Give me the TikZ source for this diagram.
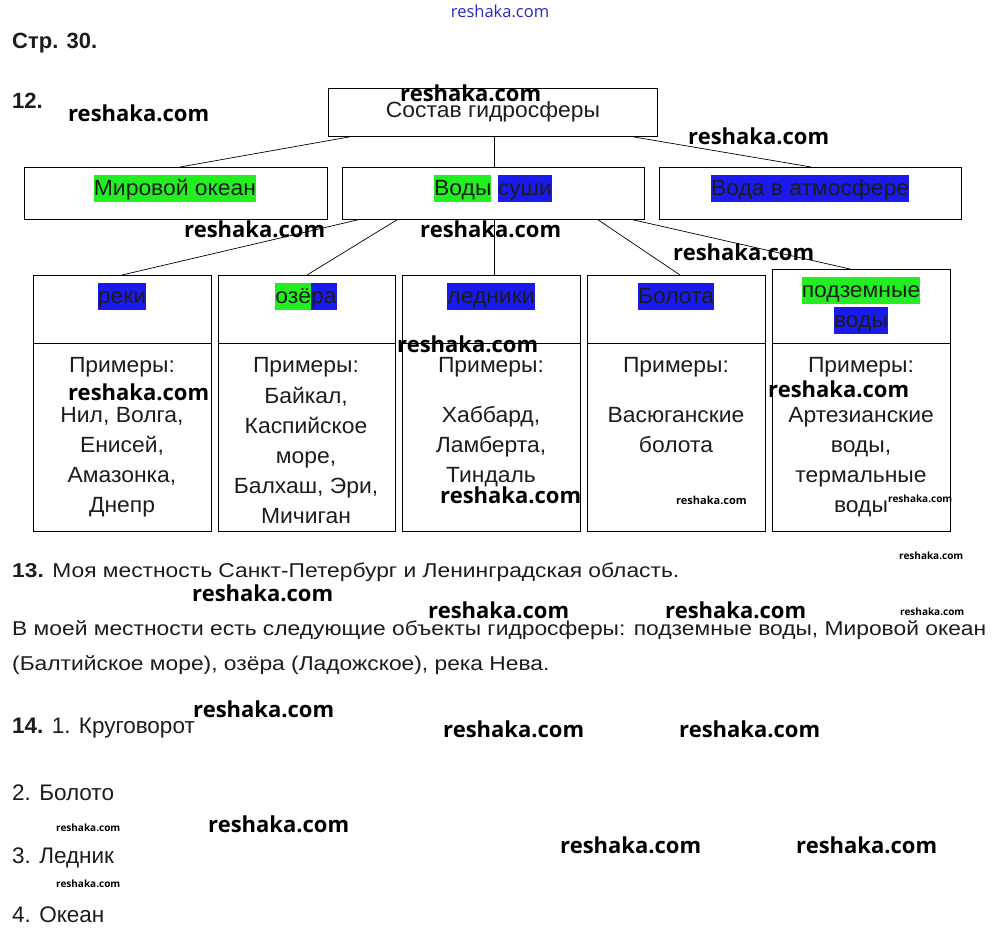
\documentclass[tikz,border=0pt]{standalone}
\usepackage{fontspec}
\setmainfont{Liberation Sans}
\newfontfamily\wmfont{Open Sans}
\newfontfamily\boxfont[FakeStretch=1.04]{Liberation Sans}
\newfontfamily\parafont[FakeStretch=1.14]{Liberation Sans}
\definecolor{hlgreen}{RGB}{34,238,34}
\definecolor{hlblue}{RGB}{26,26,238}
\definecolor{ink}{RGB}{28,28,28}
\definecolor{wmblue}{RGB}{40,40,200}
\newcommand\hlstrut{\rule[-7pt]{0pt}{27pt}}
\newcommand\hlg[1]{{\setlength\fboxsep{0pt}\colorbox{hlgreen}{\hlstrut#1}}}
\newcommand\hlb[1]{{\setlength\fboxsep{0pt}\colorbox{hlblue}{\hlstrut#1}}}
\begin{document}
\begin{tikzpicture}[x=1pt,y=-1pt,
  box/.style={draw, line width=0.8pt, inner sep=0pt, anchor=north west},
  conn/.style={draw, line width=0.7pt},
  txt/.style={inner sep=0pt, anchor=base, text=ink, font=\boxfont\fontsize{22}{27}\selectfont},
  para/.style={inner sep=0pt, anchor=base west, text=ink, font=\parafont\fontsize{20}{26}\selectfont},
  list/.style={inner sep=0pt, anchor=base west, text=ink, font=\fontsize{22.5}{27}\selectfont},
  boldtxt/.style={inner sep=0pt, anchor=base west, text=ink, font=\fontsize{22}{27}\selectfont\bfseries},
  wm/.style={inner sep=0pt, anchor=base west, text=black, font=\wmfont\fontsize{22}{26}\selectfont\bfseries},
  wms/.style={inner sep=0pt, anchor=base west, text=black, font=\wmfont\fontsize{10}{12}\selectfont\bfseries}
]
\useasboundingbox[fill=white] (0,0) rectangle (1000,935);

% top watermark
\node[inner sep=0pt, anchor=base, text=wmblue, font=\wmfont\fontsize{16.5}{19}\selectfont] (wm0) at (500,17) {reshaka.com};

\node[boldtxt] (p30) at (12,48) {Стр. 30.};
\node[boldtxt] (n12) at (12,108) {12.};

% boxes
\node[box, minimum width=329pt, minimum height=48pt] (top) at (328,88) {};
\node[box, minimum width=303pt, minimum height=52pt] (ocean) at (24,167) {};
\node[box, minimum width=302pt, minimum height=52pt] (land) at (342,167) {};
\node[box, minimum width=302pt, minimum height=52pt] (atm) at (659,167) {};

\node[box, minimum width=178pt, minimum height=68pt] (reki) at (33,275) {};
\node[box, minimum width=178pt, minimum height=188pt] (reki-ex) at (33,343) {};
\node[box, minimum width=177pt, minimum height=68pt] (ozera) at (218,275) {};
\node[box, minimum width=177pt, minimum height=188pt] (ozera-ex) at (218,343) {};
\node[box, minimum width=178pt, minimum height=68pt] (led) at (402,275) {};
\node[box, minimum width=178pt, minimum height=188pt] (led-ex) at (402,343) {};
\node[box, minimum width=178pt, minimum height=68pt] (bol) at (587,275) {};
\node[box, minimum width=178pt, minimum height=188pt] (bol-ex) at (587,343) {};
\node[box, minimum width=178pt, minimum height=74pt] (podz) at (772,269) {};
\node[box, minimum width=178pt, minimum height=188pt] (podz-ex) at (772,343) {};

% connectors
\draw[conn] ([xshift=22pt]top.south west) -- ([xshift=156pt]ocean.north west);
\draw[conn] ([xshift=166pt]top.south west) -- ([xshift=152pt]land.north west);
\draw[conn] ([xshift=305pt]top.south west) -- ([xshift=152pt]atm.north west);
\draw[conn] ([xshift=16pt]land.south west) -- ([xshift=89pt]reki.north west);
\draw[conn] ([xshift=55pt]land.south west) -- ([xshift=89pt]ozera.north west);
\draw[conn] ([xshift=152pt]land.south west) -- ([xshift=92pt]led.north west);
\draw[conn] ([xshift=256pt]land.south west) -- ([xshift=93pt]bol.north west);
\draw[conn] ([xshift=291pt]land.south west) -- ([xshift=78pt]podz.north west);

% box texts
\node[txt] (top-t) at (493,117) {Состав гидросферы};
\node[txt] (ocean-t) at (175,195) {\hlg{Мировой океан}};
\node[txt] (land-t) at (493,195) {\hlg{Воды} \hlb{суши}};
\node[txt] (atm-t) at (810,195) {\hlb{Вода в атмосфере}};
\node[txt] (reki-t) at (122,303) {\hlb{реки}};
\node[txt] (ozera-t) at (306,303) {\hlg{озё}\hlb{ра}};
\node[txt] (led-t) at (491,303) {\hlb{ледники}};
\node[txt] (bol-t) at (676,303) {\hlb{Болота}};
\node[txt] (podz-t1) at (861,297) {\hlg{подземные}};
\node[txt] (podz-t2) at (861,327) {\hlb{воды}};

% examples
\node[txt] (e1a) at (122,372) {Примеры:};
\node[txt] (e1b) at (122,422) {Нил, Волга,};
\node[txt] (e1c) at (122,452) {Енисей,};
\node[txt] (e1d) at (122,482) {Амазонка,};
\node[txt] (e1e) at (122,512) {Днепр};

\node[txt] (e2a) at (306,372) {Примеры:};
\node[txt] (e2b) at (306,403) {Байкал,};
\node[txt] (e2c) at (306,433) {Каспийское};
\node[txt] (e2d) at (306,463) {море,};
\node[txt] (e2e) at (306,493) {Балхаш, Эри,};
\node[txt] (e2f) at (306,523) {Мичиган};

\node[txt] (e3a) at (491,372) {Примеры:};
\node[txt] (e3b) at (491,422) {Хаббард,};
\node[txt] (e3c) at (491,452) {Ламберта,};
\node[txt] (e3d) at (491,482) {Тиндаль};

\node[txt] (e4a) at (676,372) {Примеры:};
\node[txt] (e4b) at (676,422) {Васюганские};
\node[txt] (e4c) at (676,452) {болота};

\node[txt] (e5a) at (861,372) {Примеры:};
\node[txt] (e5b) at (861,422) {Артезианские};
\node[txt] (e5c) at (861,452) {воды,};
\node[txt] (e5d) at (861,482) {термальные};
\node[txt] (e5e) at (861,512) {воды};

% task 13
\node[para] (t13) at (12,577) {\textbf{13.} Моя местность Санкт-Петербург и Ленинградская область.};
\node[para] (t13b) at (12,635) {В моей местности есть следующие объекты гидросферы: подземные воды, Мировой океан};
\node[para] (t13c) at (12,670) {(Балтийское море), озёра (Ладожское), река Нева.};

% task 14
\node[list] (t14a) at (12,733) {\textbf{14.} 1. Круговорот};
\node[list] (t14b) at (12,800) {2. Болото};
\node[list] (t14c) at (12,863) {3. Ледник};
\node[list] (t14d) at (12,922) {4. Океан};

% watermarks
\node[wm] (w1) at (400,101) {reshaka.com};
\node[wm] (w2) at (68,121) {reshaka.com};
\node[wm] (w3) at (688,144) {reshaka.com};
\node[wm] (w4) at (184,237) {reshaka.com};
\node[wm] (w5) at (420,237) {reshaka.com};
\node[wm] (w6) at (673,260) {reshaka.com};
\node[wm] (w7) at (397,352) {reshaka.com};
\node[wm] (w8) at (68,400) {reshaka.com};
\node[wm] (w9) at (768,397) {reshaka.com};
\node[wm] (w10) at (440,503) {reshaka.com};
\node[wms, font=\wmfont\fontsize{11}{13}\selectfont\bfseries] (w11) at (676,504) {reshaka.com};
\node[wms] (w12) at (888,502) {reshaka.com};
\node[wms] (w13) at (899,559) {reshaka.com};
\node[wm] (w14) at (192,601) {reshaka.com};
\node[wm] (w15) at (428,618) {reshaka.com};
\node[wm] (w16) at (665,618) {reshaka.com};
\node[wms] (w17) at (900,615) {reshaka.com};
\node[wm] (w18) at (193,717) {reshaka.com};
\node[wm] (w19) at (443,737) {reshaka.com};
\node[wm] (w20) at (679,737) {reshaka.com};
\node[wms] (w21) at (56,831) {reshaka.com};
\node[wm] (w22) at (208,832) {reshaka.com};
\node[wms] (w23) at (56,887) {reshaka.com};
\node[wm] (w24) at (560,853) {reshaka.com};
\node[wm] (w25) at (796,853) {reshaka.com};
\end{tikzpicture}
\end{document}
